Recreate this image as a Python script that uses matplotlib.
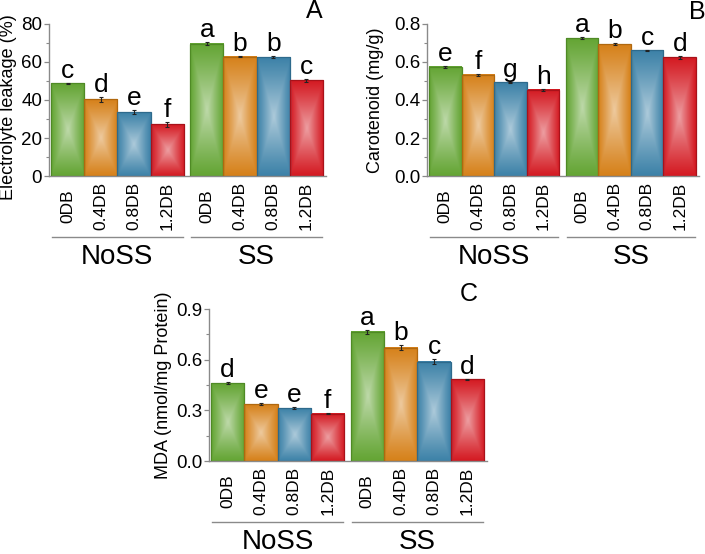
import numpy as np
import matplotlib
matplotlib.use('Agg')
import matplotlib.pyplot as plt
import matplotlib.transforms as mtransforms
from matplotlib.colors import to_rgb
from matplotlib.ticker import MultipleLocator, FormatStrFormatter

plt.rcParams['font.family'] = ['Liberation Sans', 'DejaVu Sans']

groups = ['NoSS', 'SS']
treatments = ['0DB', '0.4DB', '0.8DB', '1.2DB']

el_noss = [48.7, 40.4, 33.6, 27.3]
el_ss = [69.7, 62.8, 62.6, 50.5]
el_noss_err = [0.4, 1.2, 1.2, 1.3]
el_ss_err = [1.0, 0.3, 0.3, 0.8]
el_letters_noss = ['c', 'd', 'e', 'f']
el_letters_ss = ['a', 'b', 'b', 'c']

car_noss = [0.575, 0.533, 0.493, 0.454]
car_ss = [0.725, 0.693, 0.661, 0.625]
car_noss_err = [0.006, 0.005, 0.004, 0.005]
car_ss_err = [0.006, 0.005, 0.004, 0.007]
car_letters_noss = ['e', 'f', 'g', 'h']
car_letters_ss = ['a', 'b', 'c', 'd']

mda_noss = [0.461, 0.336, 0.313, 0.279]
mda_ss = [0.764, 0.671, 0.588, 0.484]
mda_noss_err = [0.006, 0.005, 0.004, 0.003]
mda_ss_err = [0.012, 0.013, 0.014, 0.004]
mda_letters_noss = ['d', 'e', 'e', 'f']
mda_letters_ss = ['a', 'b', 'c', 'd']

bar_colors = ['#64a534', '#d6811a', '#3d82a8', '#d41a22']
edge_colors = ['#4f8a25', '#b0680f', '#2e6a8c', '#a8121a']

AX_GRAY = '#8a8a8a'
W, H = 705, 554


def gradient(color, n=60):
    u = np.linspace(-1, 1, n)
    v = np.linspace(-1, 1, n * 3)
    U, V = np.meshgrid(u, v)
    f = np.maximum(np.abs(U), np.abs(V))
    t = (1 - f) ** 1.1 * 0.58
    base = np.array(to_rgb(color))
    return base * (1 - t[..., None]) + t[..., None]


def panel(fig, rect, noss, ss, noss_err, ss_err, lets_noss, lets_ss,
          ymax, major, minor, fmt, ylabel, ylabel_x, ylabel_y):
    ax = fig.add_axes(rect)
    gap = 0.19
    x_noss = np.arange(len(treatments))
    x_ss = np.arange(len(treatments)) + len(treatments) + gap
    for xs, vals, errs, lets in ((x_noss, noss, noss_err, lets_noss),
                                 (x_ss, ss, ss_err, lets_ss)):
        bars = ax.bar(xs, vals, width=1.0, color=bar_colors, edgecolor='none', zorder=2)
        for r, c in zip(bars, bar_colors):
            x0, y0 = r.get_xy()
            ax.imshow(gradient(c), extent=(x0, x0 + r.get_width(), y0, y0 + r.get_height()),
                      aspect='auto', zorder=2.2, clip_path=r, interpolation='bilinear')
        ax.bar(xs, vals, width=1.0, fill=False, edgecolor=edge_colors, lw=0.9, zorder=3)
        ax.errorbar(xs, vals, yerr=errs, fmt='none', ecolor='#222222', elinewidth=0.8,
                    capsize=1.6, capthick=0.8, zorder=4)
        for x, v, e, l in zip(xs, vals, errs, lets):
            ax.annotate(l, (x, v + e), xytext=(0, 3.6), textcoords='offset points',
                        ha='center', va='baseline', fontsize=19, zorder=5)
    ax.set_xlim(-0.56, x_ss[-1] + 0.5 + 0.09)
    ax.set_ylim(0, ymax)
    ax.set_aspect('auto')
    for s in ('top', 'right'):
        ax.spines[s].set_visible(False)
    for s in ('left', 'bottom'):
        ax.spines[s].set_color(AX_GRAY)
        ax.spines[s].set_linewidth(1.0)
    ax.yaxis.set_major_locator(MultipleLocator(major))
    ax.yaxis.set_minor_locator(MultipleLocator(minor))
    ax.yaxis.set_major_formatter(FormatStrFormatter(fmt))
    ax.tick_params(axis='y', which='major', length=3.5, width=0.9, color=AX_GRAY,
                   labelsize=13.5, pad=1.5)
    ax.tick_params(axis='y', which='minor', length=2, width=0.8, color=AX_GRAY)
    allx = np.concatenate([x_noss, x_ss])
    ax.set_xticks(allx, treatments * 2, rotation=90, va='center', ha='center', fontsize=12.5)
    ax.tick_params(axis='x', length=0, pad=21.6)
    ax.set_ylabel(ylabel, fontsize=13, va='center')
    ax.yaxis.set_label_coords(ylabel_x, ylabel_y)
    trans = mtransforms.blended_transform_factory(ax.transData, ax.transAxes)
    for xs, g in ((x_noss, groups[0]), (x_ss, groups[1])):
        ax.plot([xs[0] - 0.47, xs[-1] + 0.47], [-0.401, -0.401], color=AX_GRAY, lw=1.0,
                transform=trans, clip_on=False)
        ax.text(np.mean(xs), -0.53, g, transform=trans, ha='center', va='center', fontsize=20)
    return ax


fig = plt.figure(figsize=(7.05, 5.54), dpi=100)

axA = panel(fig, [49 / W, 1 - 176 / H, 277 / W, 152 / H], el_noss, el_ss, el_noss_err, el_ss_err,
            el_letters_noss, el_letters_ss, 80, 20, 10, '%d', 'Electrolyte leakage (%)', -0.148, 0.45)
axB = panel(fig, [427 / W, 1 - 176 / H, 272 / W, 152 / H], car_noss, car_ss, car_noss_err, car_ss_err,
            car_letters_noss, car_letters_ss, 0.8, 0.2, 0.1, '%.1f', 'Carotenoid (mg/g)', -0.191, 0.5)
axC = panel(fig, [209 / W, 1 - 461 / H, 278 / W, 152 / H], mda_noss, mda_ss, mda_noss_err, mda_ss_err,
            mda_letters_noss, mda_letters_ss, 0.9, 0.3, 0.15, '%.1f', 'MDA (nmol/mg Protein)', -0.165, 0.5)

fig.text(314 / W, 1 - 11 / H, 'A', ha='center', va='center', fontsize=18)
fig.text(697 / W, 1 - 12 / H, 'B', ha='center', va='center', fontsize=18)
fig.text(469 / W, 1 - 294 / H, 'C', ha='center', va='center', fontsize=18)

fig.savefig('out.png', dpi=100)
